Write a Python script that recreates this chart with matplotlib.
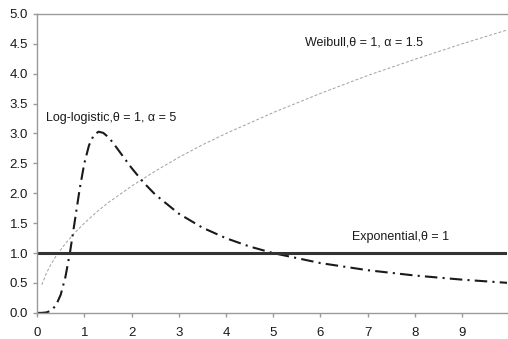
import matplotlib
matplotlib.use("Agg")
import matplotlib.pyplot as plt
from matplotlib.ticker import FormatStrFormatter

plt.rcParams['font.family'] = ['Liberation Sans', 'DejaVu Sans']

# hazard functions
t_weib = [0.1, 0.2, 0.3, 0.4, 0.6, 0.8, 1.0, 1.25, 1.5, 2.0, 2.5, 3.0, 3.5, 4.0, 5.0, 6.0, 7.0, 8.0, 9.0, 9.95]
h_weib = [0.47, 0.67, 0.82, 0.95, 1.16, 1.34, 1.50, 1.68, 1.84, 2.12, 2.37, 2.60, 2.81, 3.00, 3.35, 3.67, 3.97, 4.24, 4.50, 4.73]

t_ll = [0.0, 0.1, 0.2, 0.3, 0.4, 0.5, 0.6, 0.7, 0.8, 0.9, 1.0, 1.1, 1.2, 1.3, 1.4, 1.5, 1.6, 1.8,
        2.0, 2.25, 2.5, 3.0, 3.5, 4.0, 4.5, 5.0, 6.0, 7.0, 8.0, 9.0, 9.95]
h_ll = [0.0, 0.0005, 0.008, 0.040, 0.127, 0.303, 0.601, 1.028, 1.543, 2.063, 2.500, 2.804, 2.972,
        3.030, 3.011, 2.945, 2.853, 2.638, 2.424, 2.184, 1.980, 1.660, 1.426, 1.249, 1.110, 1.000,
        0.833, 0.714, 0.625, 0.556, 0.503]

t_exp = [0.0, 9.95]
h_exp = [1.0, 1.0]

labels = ["Weibull,\u03b8 = 1, \u03b1 = 1.5", "Log-logistic,\u03b8 = 1, \u03b1 = 5", "Exponential,\u03b8 = 1"]

fig = plt.figure(figsize=(5.08, 3.39), dpi=100)
ax = fig.add_axes([0.073, 0.077, 0.925, 0.882])

ax.plot(t_weib, h_weib, color='#a0a0a0', lw=0.7, dashes=(3, 2))
ax.plot(t_ll, h_ll, color='#1a1a1a', lw=1.5, dashes=(6, 2.5, 1, 2.5))
ax.plot(t_exp, h_exp, color='#333333', lw=2.2, solid_capstyle='butt')

ax.text(5.67, 4.53, labels[0], fontsize=9, va='center', color='#1a1a1a')
ax.text(0.19, 3.26, labels[1], fontsize=9, va='center', color='#1a1a1a')
ax.text(6.66, 1.27, labels[2], fontsize=9, va='center', color='#1a1a1a')

ax.set_xlim(0, 9.95)
ax.set_ylim(0, 5.0)
ax.set_xticks(range(10))
ax.set_yticks([i * 0.5 for i in range(11)])
ax.yaxis.set_major_formatter(FormatStrFormatter('%.1f'))

ax.spines['right'].set_visible(False)
for s in ['left', 'bottom', 'top']:
    ax.spines[s].set_color('#9a9a9a')
    ax.spines[s].set_linewidth(1.0)
ax.tick_params(colors='#9a9a9a', labelcolor='#1a1a1a', labelsize=9.5, length=3, width=1)
ax.tick_params(axis='x', pad=7)

fig.savefig("out.png", dpi=100)
